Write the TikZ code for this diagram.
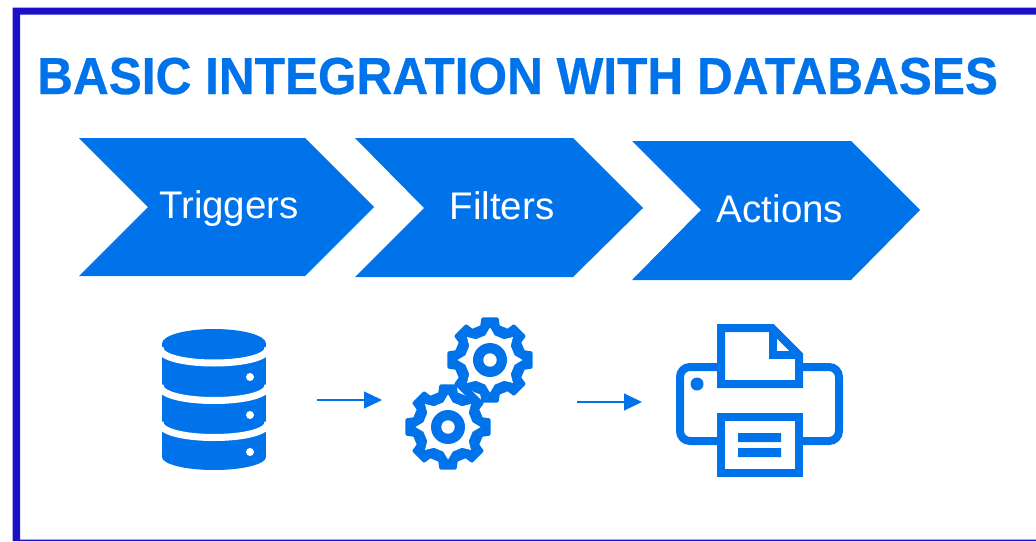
\documentclass[tikz,border=0pt]{standalone}
\usepackage{fontspec}
\usepackage{graphicx}
\setmainfont{Liberation Sans}
\usetikzlibrary{arrows.meta}
\definecolor{bluefill}{HTML}{0073EA}
\definecolor{frameblue}{HTML}{1A10C8}
\tikzset{
  chevron/.style={fill=bluefill},
  chevlabel/.style={text=white,font=\fontsize{38.5}{38.5}\selectfont,inner sep=0pt,anchor=base},
  flowarrow/.style={draw=bluefill,line width=1.2pt,-{Triangle[length=18pt,width=17pt]}},
  iconline/.style={draw=bluefill,line width=8pt,fill=white,line join=miter},
  dbband/.style={draw=white,line width=7pt},
}
\newcommand{\gearicon}[2]{%
  \begin{scope}[shift={(#1,#2)}]
    \filldraw[draw=bluefill,fill=bluefill,line width=3pt,line join=round]
      (-10:41.7)
      \foreach \a in {0,45,...,315} { -- (\a-10:41.7) -- (\a+10:41.7) -- (\a+14:34.5) -- (\a+31:34.5) }
      -- cycle;
    \fill[white]
      (0:32.5)
      \foreach \a in {0,45,...,315} { -- (\a:32.5) -- (\a+11:25) -- (\a+22.5:24.5) -- (\a+34:25) }
      -- cycle;
    \fill[bluefill] (0,0) circle[radius=17];
    \fill[white] (0,0) circle[radius=6.7];
  \end{scope}}
\begin{document}
\begin{tikzpicture}[x=1pt,y=-1pt]
\useasboundingbox (0,0) rectangle (1036,541);
\fill[white] (0,0) rectangle (1036,541);
% frame
\fill[frameblue,even odd rule] (12.5,7.5) rectangle (1036,541) (20,14.7) rectangle (1036,539.7);
% title
\node[anchor=base west,inner sep=0pt,text=bluefill,font=\fontsize{52}{52}\selectfont\bfseries] (title) at (37,94) {\scalebox{0.953}[1]{\addfontfeature{FakeBold=0.6}BASIC INTEGRATION WITH DATABASES}};
% chevrons
\fill[chevron] (79,138) -- (305,138) -- (374,207) -- (305,276) -- (79,276) -- (148,207) -- cycle;
\fill[chevron] (355,138) -- (573,138) -- (643,208) -- (573,277) -- (355,277) -- (424,208) -- cycle;
\fill[chevron] (632,141) -- (851,141) -- (920,210) -- (851,280) -- (632,280) -- (701,210) -- cycle;
\node[chevlabel] (trig) at (229,218) {Triggers};
\node[chevlabel] (filt) at (502,219) {Filters};
\node[chevlabel] (acts) at (780,222) {Actions};
% database
\fill[bluefill] (162,343.5) rectangle (266,457);
\fill[bluefill] (214,343.5) ellipse[x radius=52,y radius=14.5];
\fill[bluefill] (214,457) ellipse[x radius=52,y radius=13];
\draw[dbband] (160,348) .. controls (160,368) and (268,368) .. (268,348);
\draw[dbband] (160,385.5) .. controls (160,405.5) and (268,405.5) .. (268,385.5);
\draw[dbband] (160,422.5) .. controls (160,442.5) and (268,442.5) .. (268,422.5);
\fill[white] (250,377) circle[radius=4] (250,415) circle[radius=4] (250,452) circle[radius=4];
% gears
\gearicon{490}{360}
\gearicon{448}{427}
% printer
\draw[iconline,fill=none,rounded corners=10pt] (680,367) rectangle (839,441);
\draw[iconline] (721,328) -- (772,328) -- (799,355) -- (799,384) -- (721,384) -- cycle;
\draw[iconline,fill=none] (772.5,328) -- (772.5,354.5) -- (799,354.5);
\fill[white] (777,340) -- (777,350) -- (787,350) -- cycle;
\draw[iconline] (721,417) rectangle (799,473);
\fill[bluefill] (738,433) rectangle (781,442) (738,448) rectangle (781,457);
\fill[bluefill] (697,384) circle[radius=6.5];
% arrows
\coordinate (a1s) at (317,400); \coordinate (a1e) at (382,400);
\coordinate (a2s) at (577,402); \coordinate (a2e) at (642,402);
\draw[flowarrow] (a1s) -- (a1e);
\draw[flowarrow] (a2s) -- (a2e);
\end{tikzpicture}
\end{document}
